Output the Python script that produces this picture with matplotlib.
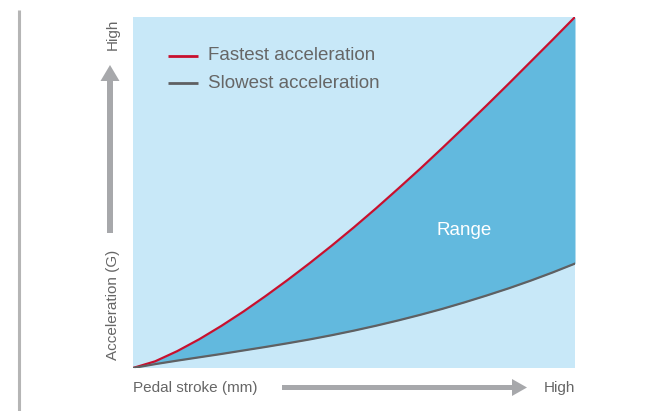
import matplotlib
matplotlib.use("Agg")
import matplotlib.pyplot as plt
from matplotlib.patches import FancyArrow
import numpy as np

plt.rcParams['font.family'] = ['Liberation Sans', 'DejaVu Sans']

# Pedalhub (normiert 0..10) und Beschleunigung (normiert 0..10)
stroke = [0, 0.5, 1, 1.5, 2, 2.5, 3, 3.5, 4, 4.5, 5,
          5.5, 6, 6.5, 7, 7.5, 8, 8.5, 9, 9.5, 10]
fastest = [0, 0.19, 0.48, 0.82, 1.20, 1.61, 2.05, 2.51, 2.99, 3.49, 4.01,
           4.55, 5.11, 5.68, 6.27, 6.87, 7.48, 8.10, 8.73, 9.36, 10.0]
slowest = [0, 0.11, 0.21, 0.305, 0.40, 0.50, 0.60, 0.705, 0.815, 0.935, 1.065,
           1.205, 1.355, 1.515, 1.685, 1.87, 2.065, 2.27, 2.49, 2.725, 2.975]

BG = '#c8e8f8'
FILL = '#62b9de'
RED = '#c8102e'
GREY = '#5f6062'
TXT = '#666666'
ARROW = '#a7a8ab'

W, H = 648, 411
fig = plt.figure(figsize=(W / 100, H / 100), dpi=100)

# Hauptplot
ax = fig.add_axes([133 / W, 1 - 368 / H, (575 - 133) / W, (368 - 17) / H])
ax.set_facecolor(BG)
x = np.array(stroke)
ax.fill_between(x, slowest, fastest, color=FILL, linewidth=0)
ax.plot(x, fastest, color=RED, lw=1.6, solid_joinstyle='round')
ax.plot(x, slowest, color=GREY, lw=1.6, solid_joinstyle='round')
ax.set_xlim(0, 10)
ax.set_ylim(0, 10)
ax.set_xticks([])
ax.set_yticks([])
for s in ax.spines.values():
    s.set_visible(False)
ax.text(7.49, 3.93, 'Range', color='white', fontsize=13.5, ha='center', va='center')

# Overlay in Pixelkoordinaten für Legende, Pfeile und Achsentexte
ov = fig.add_axes([0, 0, 1, 1], facecolor='none')
ov.set_xlim(0, W)
ov.set_ylim(H, 0)
ov.axis('off')

# Legende
for yy, col, lab in [(56, RED, 'Fastest acceleration'), (83, GREY, 'Slowest acceleration')]:
    ov.plot([168, 198], [yy, yy], color=col, lw=2.0, solid_capstyle='butt')
    ov.text(208, yy, lab, ha='left', va='center', fontsize=13.5, color=TXT)

ov.plot([19, 19], [10, 411], color='#b5b5b5', lw=2.2, solid_capstyle='butt')

# y-Pfeil
ov.add_patch(FancyArrow(110, 233, 0, -(233 - 65), width=6, head_width=19,
                        head_length=16, length_includes_head=True,
                        color=ARROW, linewidth=0))
# x-Pfeil
ov.add_patch(FancyArrow(282, 387.5, 527 - 282, 0, width=5, head_width=17,
                        head_length=15, length_includes_head=True,
                        color=ARROW, linewidth=0))

ov.text(113, 34, 'High', rotation=90, ha='center', va='center', fontsize=11, color=TXT)
ov.text(113, 305, 'Acceleration (G)', rotation=90, ha='center', va='center',
        fontsize=11, color=TXT)
ov.text(133, 388, 'Pedal stroke (mm)', ha='left', va='center', fontsize=11, color=TXT)
ov.text(575, 388, 'High', ha='right', va='center', fontsize=11, color=TXT)

fig.savefig('out.png', dpi=100)
